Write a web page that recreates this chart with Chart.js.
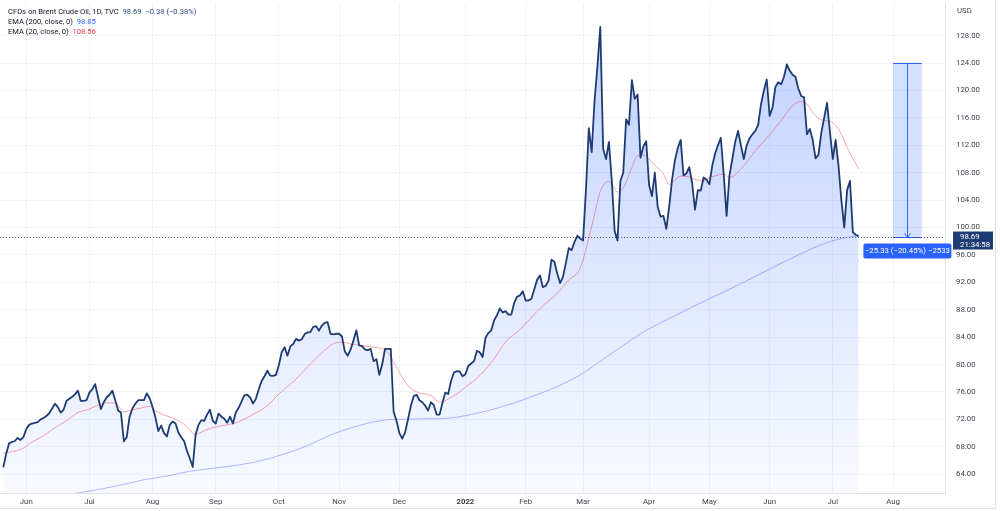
<!DOCTYPE html>
<html>
<head>
<meta charset="utf-8">
<script src="https://cdn.jsdelivr.net/npm/chart.js@4/dist/chart.umd.min.js"></script>
<style>
html,body{margin:0;padding:0;background:#fff;}
#wrap{position:relative;width:1000px;height:511px;overflow:hidden;}
canvas{display:block;}
#legend{position:absolute;left:8px;top:7px;font-family:Roboto,sans-serif;font-size:7.6px;line-height:10.2px;color:#131722;white-space:pre;}
#legend .v1{color:#2a4a7f;}
#legend .v2{color:#2962ff;}
#legend .v3{color:#f23645;}
</style>
</head>
<body>
<div id="wrap">
<canvas id="c" width="1000" height="511"></canvas>
<div id="legend"><div>CFDs on Brent Crude Oil, 1D, TVC  <span class="v1">98.69  −0.38 (−0.38%)</span></div><div>EMA (200, close, 0)  <span class="v2">98.85</span></div><div>EMA (20, close, 0)  <span class="v3">108.56</span></div></div>
</div>
<script>
// ---- DATA ----
// daily closes, one per bar (bar 0 = ~20 May 2021)
const closes = [
65.0,67.0,68.5,68.7,68.85,69.3,69.0,69.4,70.6,71.2,
71.4,71.5,71.6,72.0,72.2,72.5,72.9,73.6,74.3,73.8,
73.0,73.4,74.7,75.0,75.3,75.65,76.2,74.7,74.7,74.8,
75.9,76.4,77.15,75.3,73.5,74.5,75.2,75.6,76.2,74.8,
73.3,73.0,68.8,69.4,72.4,73.6,74.3,74.8,74.8,74.8,
75.8,75.1,73.8,72.3,70.3,71.1,70.0,69.5,71.2,71.7,
71.4,70.1,69.4,68.8,67.4,66.3,65.05,69.8,71.2,71.9,
71.8,72.7,73.4,71.8,71.4,72.85,72.4,72.1,71.5,72.4,
71.4,73.0,73.7,74.6,75.5,75.6,75.2,74.3,75.0,76.4,
77.6,78.3,79.1,78.4,78.35,78.5,79.9,81.8,82.55,81.3,
82.65,83.0,83.75,83.5,83.7,84.45,84.7,84.75,85.5,85.6,
84.95,85.7,86.1,86.2,84.5,84.4,84.5,84.5,84.1,81.9,
81.3,82.2,83.5,85.0,82.8,82.7,82.2,82.1,82.3,80.5,
80.8,78.5,80.0,82.3,82.3,82.3,73.1,71.8,70.0,69.2,
70.1,72.0,74.0,75.4,75.6,74.8,74.5,74.0,73.3,74.5,
74.1,72.7,72.7,74.4,75.9,75.7,77.6,78.85,79.05,79.0,
78.3,78.6,79.8,80.15,80.5,82.0,81.8,81.1,83.9,84.6,
85.0,86.45,87.2,88.2,87.6,87.8,87.3,87.3,89.0,89.9,
90.1,90.7,89.35,89.35,89.6,91.0,92.4,93.0,91.3,91.5,
92.3,95.3,95.0,93.3,91.9,92.8,94.8,97.0,96.7,97.9,
98.8,98.4,98.1,105.5,114.5,111.0,118.5,123.5,129.3,111.5,
110.0,112.5,106.9,99.5,98.1,106.8,108.0,115.8,115.0,121.5,
118.8,119.4,110.2,111.8,112.6,106.2,104.6,108.0,103.0,101.6,
101.7,99.8,103.0,107.0,109.8,111.6,112.8,107.6,107.9,108.8,
106.5,102.6,105.45,105.4,107.3,107.0,106.3,109.0,110.8,112.0,
113.1,107.8,101.7,107.6,110.0,112.5,114.1,112.0,110.0,112.0,
113.0,113.6,114.1,115.0,118.0,120.0,121.6,116.3,117.5,120.5,
121.2,120.9,122.0,123.8,122.9,122.3,122.0,120.3,119.2,119.0,
113.6,114.4,112.8,110.1,110.6,113.8,116.0,118.2,114.0,110.0,
112.8,109.0,104.0,100.0,105.5,106.8,99.3,98.95,98.69
];
// EMA 20 read at selected bars
const ema20Bars = [0,2,7,10,14,18,22,26,30,33,36,39,42,45,49,51,53,57,59,63,67,70,73,79,82,86,92,96,102,107,112,115,118,121,128,134,136,141,144,149,152,157,161,166,171,175,180,187,193,197,201,204,206,208,211,214,216,219,221,223,226,230,232,236,239,243,247,251,253,258,262,266,271,275,278,280,282,285,288,291,294,298];
const ema20 = [67.1,67.2,67.8,68.7,69.6,70.8,71.8,73.0,73.5,74.1,74.4,74.4,73.1,73.4,73.75,73.9,73.25,72.5,72.2,71.3,69.8,70.35,70.8,71.3,71.65,72.5,74.0,75.7,77.9,80.1,82.1,83.05,83.3,83.0,82.6,81.8,80.35,76.9,76.0,75.45,74.55,75.45,76.7,78.4,80.85,83.3,85.1,88.2,90.4,92.35,94.05,98.5,101.9,105.3,106.7,105.2,105.8,108.75,110.5,110.6,109.5,107.8,106.3,107.5,107.4,106.8,107.4,107.8,107.3,109.0,111.2,113.05,115.6,117.8,118.4,118.05,116.8,115.7,115.5,114.4,111.7,108.56];
// EMA 200 read at selected bars
const ema200Bars = [0,20,31,44,49,58,62,89,104,117,136,152,164,180,194,201,208,215,223,231,239,248,257,264,272,278,285,291,298];
const ema200 = [59.6,60.9,61.6,62.7,63.2,63.8,64.2,65.9,67.85,70.2,72.0,72.1,72.8,74.7,77.0,78.5,80.5,82.5,84.75,86.5,88.2,90.0,91.8,93.3,95.0,96.2,97.5,98.3,98.85];
// time axis: first bar of each month and its label
const monthTickBars = [8,30,52,74,96,117,138,161,182,202,225,246,267,289,310];
const monthLabels = ['Jun','Jul','Aug','Sep','Oct','Nov','Dec','2022','Feb','Mar','Apr','May','Jun','Jul','Aug'];
// price axis ticks
const priceTicks = [64,68,72,76,80,84,88,92,96,100,104,108,112,116,120,124,128];
const lastPrice = 98.69;
const lastTimer = '21:34:58';
// price-range measurement drawn in the future area
const measureBars = [310,320];
const measureFrom = 124.02;
const measureTo = 98.69;
const measureText = '−25.33 (−20.45%) −2533';

// ---- CHART ----
const FONT = 'Roboto, sans-serif';
const LINE = '#1f3c72';
const GRID = '#f0f3fa';
const AXISLINE = '#e0e3eb';

const overlay = {
  id: 'overlay',
  beforeDatasetsDraw(chart) {
    const {ctx, chartArea: a, scales: {x, y}} = chart;
    ctx.save();
    // measurement box
    const x1 = x.getPixelForValue(measureBars[0]);
    const x2 = x.getPixelForValue(measureBars[1]);
    const yT = Math.round(y.getPixelForValue(measureFrom)) + 0.5;
    const yB = Math.round(y.getPixelForValue(measureTo)) + 0.5;
    ctx.fillStyle = 'rgba(41,98,255,0.2)';
    ctx.fillRect(x1, yT, x2 - x1, yB - yT);
    ctx.strokeStyle = '#2962ff';
    ctx.lineWidth = 1;
    ctx.beginPath();
    ctx.moveTo(x1, yT); ctx.lineTo(x2, yT);
    ctx.moveTo(x1, yB); ctx.lineTo(x2, yB);
    const xm = Math.round((x1 + x2) / 2) + 0.5;
    ctx.moveTo(xm, yT); ctx.lineTo(xm, yB);
    ctx.moveTo(xm - 3, yB - 4); ctx.lineTo(xm, yB); ctx.lineTo(xm + 3, yB - 4);
    ctx.stroke();
    // dotted last price line
    const yp = Math.round(y.getPixelForValue(lastPrice)) + 0.5;
    ctx.setLineDash([1, 2]);
    ctx.strokeStyle = 'rgba(31,60,114,0.75)';
    ctx.beginPath();
    ctx.moveTo(a.left, yp); ctx.lineTo(a.right, yp);
    ctx.stroke();
    ctx.restore();
  },
  afterDraw(chart) {
    const {ctx, chartArea: a, scales: {x, y}} = chart;
    ctx.save();
    // outer frame
    ctx.strokeStyle = AXISLINE;
    ctx.lineWidth = 1;
    ctx.beginPath();
    ctx.moveTo(995.5, 0); ctx.lineTo(995.5, 509);
    ctx.moveTo(0, 508.5); ctx.lineTo(996, 508.5);
    ctx.stroke();
    // currency
    ctx.fillStyle = '#3b3f4a';
    ctx.font = '7.8px ' + FONT;
    ctx.textBaseline = 'middle';
    ctx.textAlign = 'left';
    ctx.fillText('USD', a.right + 12, 11);
    // last price label
    const yp = y.getPixelForValue(lastPrice);
    ctx.fillStyle = LINE;
    ctx.fillRect(a.right + 8, yp - 5, 40, 18);
    ctx.fillStyle = '#ffffff';
    ctx.font = '7.8px ' + FONT;
    ctx.fillText(lastPrice.toFixed(2), a.right + 15, yp + 0.5);
    ctx.fillText(lastTimer, a.right + 15, yp + 8.8);
    // measurement label
    const x1 = x.getPixelForValue(measureBars[0]);
    const x2 = x.getPixelForValue(measureBars[1]);
    const xc = (x1 + x2) / 2;
    const bw = 88, bh = 15, by = yp + 7;
    ctx.fillStyle = '#2962ff';
    ctx.beginPath();
    ctx.roundRect(xc - bw / 2, by, bw, bh, 2);
    ctx.fill();
    ctx.fillStyle = '#ffffff';
    ctx.textAlign = 'center';
    ctx.fillText(measureText, xc, by + bh / 2 + 0.5);
    ctx.restore();
  }
};

const fillGrad = (c) => {
  const chart = c.chart;
  const a = chart.chartArea;
  if (!a) return 'rgba(41,98,255,0.15)';
  const g = chart.ctx.createLinearGradient(0, a.top, 0, a.bottom);
  g.addColorStop(0, 'rgba(41,98,255,0.30)');
  g.addColorStop(1, 'rgba(41,98,255,0.03)');
  return g;
};

new Chart(document.getElementById('c'), {
  type: 'line',
  data: {
    datasets: [
      {
        label: 'Close',
        data: closes.map((v, i) => ({x: i, y: v})),
        borderColor: LINE,
        borderWidth: 1.8,
        borderJoinStyle: 'round',
        pointRadius: 0,
        tension: 0,
        fill: 'start',
        backgroundColor: fillGrad
      },
      {
        label: 'EMA 20',
        data: ema20Bars.map((b, k) => ({x: b, y: ema20[k]})),
        borderColor: 'rgba(242,54,69,0.45)',
        borderWidth: 1,
        pointRadius: 0,
        cubicInterpolationMode: 'monotone',
        fill: false
      },
      {
        label: 'EMA 200',
        data: ema200Bars.map((b, k) => ({x: b, y: ema200[k]})),
        borderColor: 'rgba(90,100,255,0.45)',
        borderWidth: 1,
        pointRadius: 0,
        cubicInterpolationMode: 'monotone',
        fill: false
      }
    ]
  },
  options: {
    responsive: false,
    animation: false,
    devicePixelRatio: 1,
    layout: {padding: {left: 0, top: 3, right: 5, bottom: 3}},
    plugins: {
      legend: {display: false},
      tooltip: {enabled: false},
      filler: {drawTime: 'beforeDatasetsDraw'}
    },
    scales: {
      x: {
        type: 'linear',
        min: -1.15,
        max: 328.1,
        grid: {color: GRID, drawTicks: false},
        border: {color: AXISLINE},
        afterBuildTicks: (s) => { s.ticks = monthTickBars.map(v => ({value: v})); },
        afterFit: (s) => { s.height = 15; s.paddingLeft = 0; s.paddingRight = 0; },
        ticks: {
          autoSkip: false,
          maxRotation: 0,
          padding: 4,
          color: '#3b3f4a',
          font: (c) => ({family: FONT, size: 7.8, weight: (c.tick && c.tick.label === '2022') ? 'bold' : 'normal'}),
          callback: (v, i) => monthLabels[i]
        }
      },
      y: {
        position: 'right',
        min: 61.26,
        max: 132.77,
        grid: {color: GRID, drawTicks: false},
        border: {color: AXISLINE},
        afterBuildTicks: (s) => { s.ticks = priceTicks.map(v => ({value: v})); },
        afterFit: (s) => { s.width = 50; s.paddingTop = 0; s.paddingBottom = 0; },
        ticks: {
          padding: 11,
          color: '#3b3f4a',
          font: {family: FONT, size: 7.8},
          callback: (v) => Number(v).toFixed(2)
        }
      }
    }
  },
  plugins: [overlay]
});
</script>
</body>
</html>
